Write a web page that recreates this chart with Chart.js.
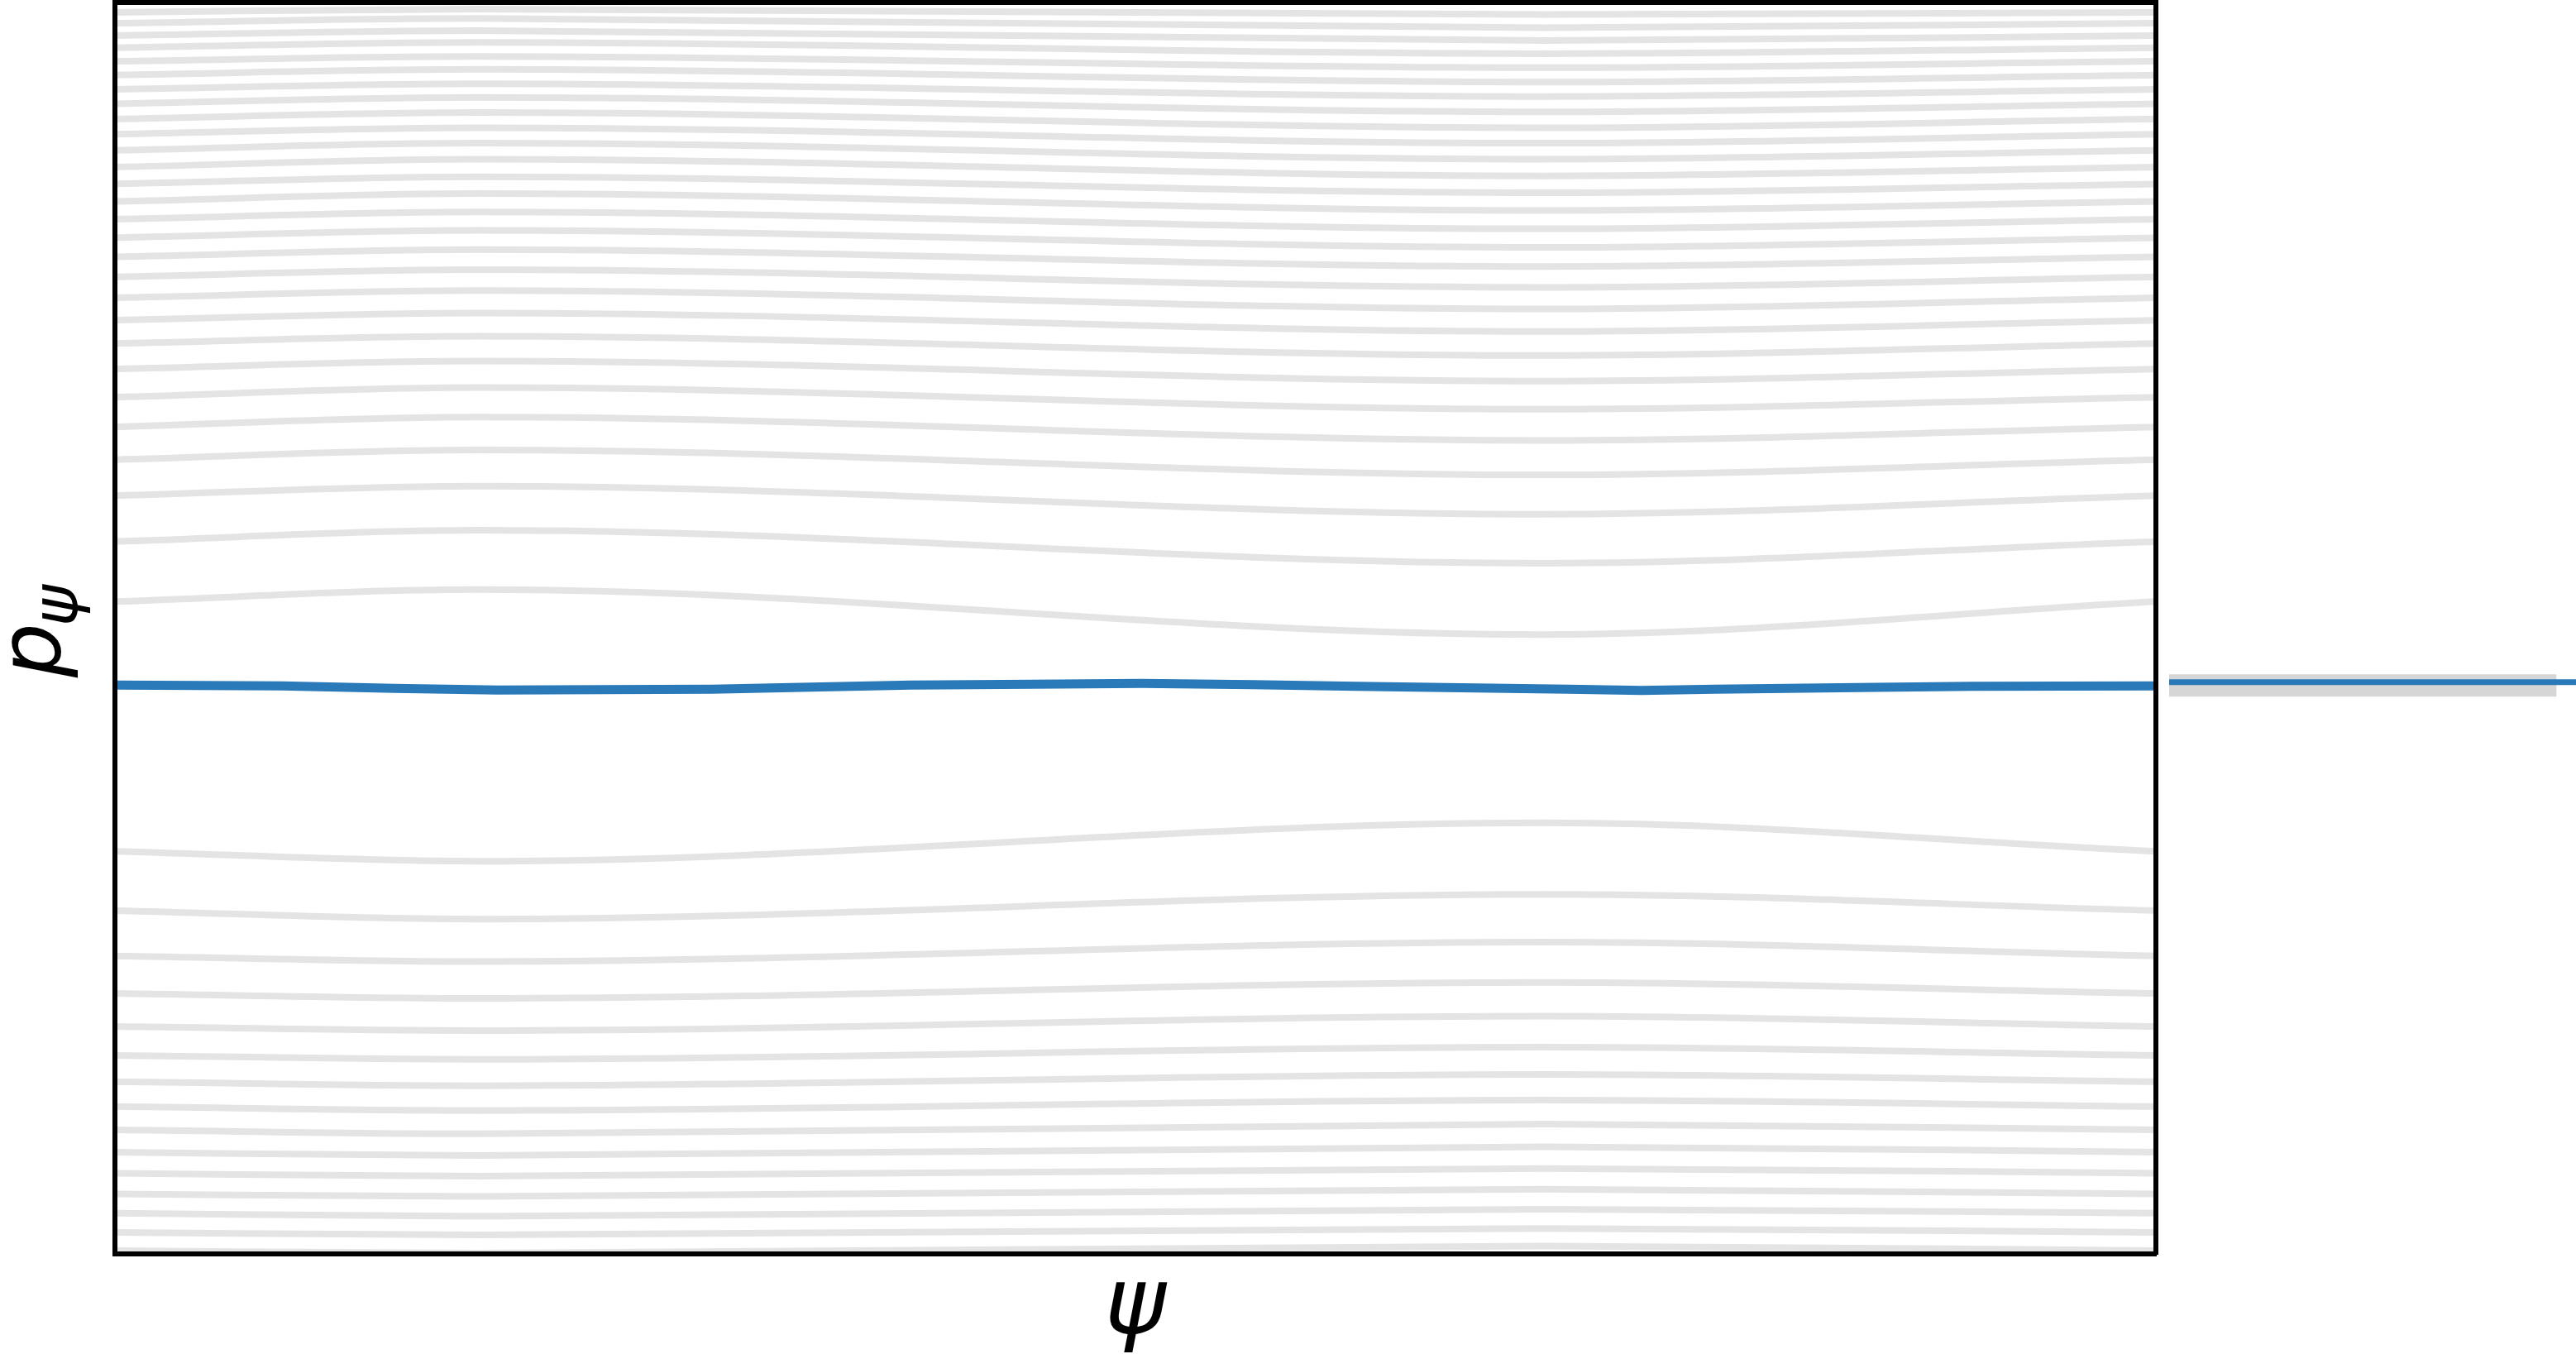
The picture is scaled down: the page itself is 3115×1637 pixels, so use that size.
<!DOCTYPE html>
<html>
<head>
<meta charset="utf-8">
<script src="https://cdn.jsdelivr.net/npm/chart.js@4/dist/chart.umd.min.js"></script>
<style>
  html, body { margin: 0; padding: 0; background: #fff; }
  #wrap { position: relative; width: 3115px; height: 1637px; overflow: hidden; }
  #main { position: absolute; left: 0; top: 0; }
  #side { position: absolute; left: 2615px; top: 0; }
</style>
</head>
<body>
<div id="wrap">
  <canvas id="main" width="3115" height="1637"></canvas>
  <canvas id="side" width="500" height="1637"></canvas>
</div>
<script>
// psi where each grey curve was read: left edge, potential minimum, potential maximum, right edge
const psiPts = [0, 1.117, 4.398, 6.283];
const psiMin = 0;
const psiMax = 6.283;
const pMin = -3.43;
const pMax = 4.14;

// grey curves above the blue trajectory (p at left edge / at V min / at V max)
const upperLeft = [4.078, 4.012, 3.937, 3.864, 3.782, 3.699, 3.612, 3.525, 3.433, 3.341, 3.244, 3.142, 3.040, 2.934,
  2.827, 2.715, 2.599, 2.478, 2.352, 2.216, 2.076, 1.921, 1.751, 1.571, 1.373, 1.155, 0.878, 0.515];
const upperAtMin = [4.097, 4.041, 3.968, 3.896, 3.811, 3.733, 3.646, 3.564, 3.472, 3.380, 3.287, 3.190, 3.084, 2.982,
  2.871, 2.759, 2.643, 2.522, 2.396, 2.260, 2.119, 1.969, 1.809, 1.630, 1.431, 1.213, 0.946, 0.587];
const upperAtMax = [4.065, 3.985, 3.908, 3.828, 3.743, 3.656, 3.569, 3.476, 3.380, 3.287, 3.190, 3.089, 2.987, 2.880,
  2.769, 2.657, 2.541, 2.415, 2.284, 2.148, 2.003, 1.848, 1.678, 1.489, 1.281, 1.043, 0.747, 0.315];

// grey curves below the blue trajectory
const lowerLeft = [-0.995, -1.354, -1.628, -1.855, -2.055, -2.229, -2.389, -2.539, -2.680, -2.815, -2.942, -3.068, -3.184, -3.300, -3.410];
const lowerAtMin = [-1.055, -1.405, -1.662, -1.885, -2.079, -2.253, -2.413, -2.563, -2.704, -2.835, -2.960, -3.082, -3.203, -3.315, -3.425];
const lowerAtMax = [-0.823, -1.255, -1.545, -1.788, -1.992, -2.180, -2.345, -2.500, -2.645, -2.782, -2.913, -3.039, -3.160, -3.276, -3.383];

// blue trajectory
const bluePsi = [0, 0.516, 0.862, 1.178, 1.839, 2.450, 2.826, 3.162, 3.505, 3.823, 4.095, 4.474, 4.700, 4.927, 5.367, 5.718, 6.283];
const blueP = [0.010, 0.005, -0.010, -0.020, -0.015, 0.010, 0.015, 0.020, 0.0125, 0.0025, -0.005, -0.015, -0.0225, -0.015, -0.005, 0.0025, 0.005];

// side panel: one histogram bin of p and the marked value
const histEdges = [-0.06, 0.075];
const histCount = [1.0];
const sideMarker = 0.0275;
const sideMax = 1.05;

const blue = '#2a7aba';
const grey = '#e4e4e4';

function curve(l, mn, mx) {
    let vals = [l, mn, mx, l];
    return vals.map((p, i) => ({ x: psiPts[i], y: p }));
}

let datasets = [];
datasets.push({
    label: 'trajectory',
    data: bluePsi.map((x, i) => ({ x: x, y: blueP[i] })),
    borderColor: blue,
    borderWidth: 11,
    pointRadius: 0,
    tension: 0,
    order: 0
});
upperLeft.forEach((l, i) => {
    datasets.push({
        data: curve(l, upperAtMin[i], upperAtMax[i]),
        borderColor: grey, borderWidth: 8, pointRadius: 0,
        cubicInterpolationMode: 'monotone', order: 1
    });
});
lowerLeft.forEach((l, i) => {
    datasets.push({
        data: curve(l, lowerAtMin[i], lowerAtMax[i]),
        borderColor: grey, borderWidth: 8, pointRadius: 0,
        cubicInterpolationMode: 'monotone', order: 1
    });
});

function frameAxis(position, min, max) {
    return {
        type: 'linear', position: position, min: min, max: max,
        grid: { display: false, drawTicks: false },
        ticks: { display: false },
        border: { display: true, color: '#000', width: 6, z: 2 }
    };
}

const axisLabels = {
    id: 'axisLabels',
    afterDraw(chart) {
        const ctx = chart.ctx;
        const area = chart.chartArea;
        ctx.save();
        ctx.fillStyle = '#000';
        ctx.textBaseline = 'alphabetic';

        ctx.textAlign = 'center';
        ctx.font = 'italic 112px "DejaVu Sans"';
        ctx.fillText('ψ', (area.left + area.right) / 2, area.bottom + 96);

        ctx.textAlign = 'left';
        ctx.font = 'italic 104px "DejaVu Sans"';
        let wp = ctx.measureText('p').width;
        ctx.font = 'italic 76px "DejaVu Sans"';
        let ws = ctx.measureText('ψ').width;
        let midY = (area.top + area.bottom) / 2 + 2;
        ctx.translate(area.left - 66, midY + (wp + ws) / 2);
        ctx.rotate(-Math.PI / 2);
        ctx.font = 'italic 104px "DejaVu Sans"';
        ctx.fillText('p', 0, 0);
        ctx.font = 'italic 76px "DejaVu Sans"';
        ctx.fillText('ψ', wp - 4, 20);
        ctx.restore();
    }
};

new Chart(document.getElementById('main'), {
    type: 'line',
    data: { datasets: datasets },
    options: {
        responsive: false,
        animation: false,
        devicePixelRatio: 1,
        layout: { padding: { left: 138.5, right: 508, top: 2.5, bottom: 121 } },
        plugins: { legend: { display: false }, tooltip: { enabled: false } },
        scales: {
            x: frameAxis('bottom', psiMin, psiMax),
            x2: frameAxis('top', psiMin, psiMax),
            y: frameAxis('left', pMin, pMax),
            y2: frameAxis('right', pMin, pMax)
        }
    },
    plugins: [axisLabels]
});

new Chart(document.getElementById('side'), {
    type: 'line',
    data: {
        datasets: [
            {
                data: [{ x: 0, y: sideMarker }, { x: sideMax, y: sideMarker }],
                borderColor: blue, borderWidth: 7, pointRadius: 0
            },
            {
                data: [{ x: 0, y: histEdges[1] }, { x: histCount[0], y: histEdges[1] }],
                borderColor: 'rgba(0,0,0,0)', borderWidth: 0, pointRadius: 0, fill: false
            },
            {
                data: [{ x: 0, y: histEdges[0] }, { x: histCount[0], y: histEdges[0] }],
                borderColor: 'rgba(0,0,0,0)', borderWidth: 0, pointRadius: 0,
                fill: '-1', backgroundColor: '#d6d6d6'
            }
        ]
    },
    options: {
        responsive: false,
        animation: false,
        devicePixelRatio: 1,
        layout: { padding: { left: 8, right: 0, top: 2.5, bottom: 121 } },
        plugins: { legend: { display: false }, tooltip: { enabled: false } },
        scales: {
            x: { type: 'linear', min: 0, max: sideMax, display: false },
            y: { type: 'linear', min: pMin, max: pMax, display: false }
        }
    }
});
</script>
</body>
</html>
